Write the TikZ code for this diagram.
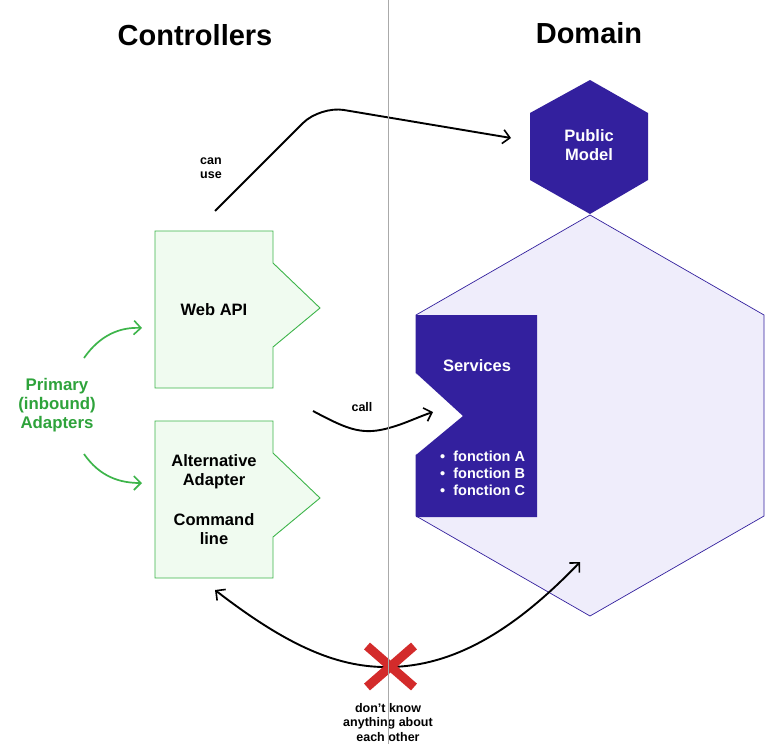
\documentclass[tikz,border=0pt]{standalone}
\usepackage{fontspec}
\setmainfont{Liberation Sans}
\usetikzlibrary{arrows.meta}
\definecolor{indigo}{HTML}{33209E}
\definecolor{lavender}{HTML}{EFEDFB}
\definecolor{paleg}{HTML}{F0FBF0}
\definecolor{gline}{HTML}{3DB54A}
\definecolor{gtext}{HTML}{2EA33B}
\definecolor{xred}{HTML}{D32B2B}
\definecolor{divider}{HTML}{AAAAAA}
\tikzset{
  >={Straight Barb[length=7pt,width=14pt,line width=1.6pt]},
  title/.style={font=\bfseries\fontsize{29}{31}\selectfont, inner sep=0pt},
  boxlabel/.style={font=\bfseries\fontsize{16.5}{19}\selectfont, align=center, inner sep=0pt},
  small/.style={font=\bfseries\fontsize{12.5}{14.5}\selectfont, align=center, inner sep=0pt},
  adapter/.style={draw=gline, fill=paleg, line width=0.9pt},
  conn/.style={line width=1.9pt, black},
}
\begin{document}
\begin{tikzpicture}[x=1pt,y=-1pt]
\useasboundingbox (0,0) rectangle (765,744);
\fill[white] (0,0) rectangle (765,744);

% titles
\node[title] (tctrl) at (195,35) {Controllers};
\node[title] (tdom) at (589,33) {Domain};

% domain hexagon
\draw[fill=lavender, draw=indigo, line width=0.7pt]
  (590,215) -- (764,315) -- (764,516) -- (590,616) -- (416,516) -- (416,315) -- cycle;

% public model hexagon
\fill[indigo] (590,80) -- (648,113) -- (648,180) -- (590,214) -- (530,180) -- (530,113) -- cycle;
\node[boxlabel, text=white] (pm) at (589,145) {Public\\Model};

% services
\fill[white] (415,373) -- (463,416) -- (415,455) -- cycle;
\fill[indigo] (416,315) -- (537,315) -- (537,517) -- (416,517) -- (416,455) -- (463,416) -- (416,373) -- cycle;
\node[boxlabel, text=white] (svc) at (477,366) {Services};
\node[font=\bfseries\fontsize{14.5}{17}\selectfont, text=white, align=left, inner sep=0pt, anchor=west] (fn) at (440,473)
  {\textbullet\ \ fonction A\\ \textbullet\ \ fonction B\\ \textbullet\ \ fonction C};
\coordinate (svcin) at (433,412);

% adapters
\draw[adapter] (155,231) -- (273,231) -- (273,263) -- (320,308) -- (273,347) -- (273,388) -- (155,388) -- cycle;
\node[boxlabel] (web) at (214,310) {Web API};
\draw[adapter] (155,421) -- (273,421) -- (273,453) -- (320,498) -- (273,537) -- (273,578) -- (155,578) -- cycle;
\node[boxlabel] (alt) at (214,472) {Alternative\\Adapter};
\node[boxlabel] (cmd) at (214,529) {Command\\line};

% primary adapters
\node[font=\bfseries\fontsize{16.8}{19}\selectfont, text=gtext, align=center, inner sep=0pt] (prim) at (57,405) {Primary\\(inbound)\\Adapters};
\coordinate (pa1) at (84,358);
\coordinate (pb1) at (142,328);
\coordinate (pa2) at (84,454);
\coordinate (pb2) at (142,483);
\draw[gline, line width=1.7pt, ->] (pa1) .. controls (100,335) and (120,327) .. (pb1);
\draw[gline, line width=1.7pt, ->] (pa2) .. controls (100,477) and (120,483) .. (pb2);

% can use
\coordinate (cu0) at (215,211);
\coordinate (cu1) at (511,138);
\draw[conn, ->, rounded corners=24pt] (cu0) -- (320,106) -- (cu1);
\node[small] (canuse) at (211,168) {can\\use};

% call
\coordinate (c0) at (313,411);
\draw[conn, ->] (c0) .. controls (345,428) and (360,435) .. (385,429) .. controls (405,424) and (415,418) .. (svcin);
\node[small] (call) at (362,407) {call};

% don't know
\coordinate (d0) at (215,590);
\coordinate (d1) at (580,562);
\draw[conn, <->] (d0) .. controls (290,648) and (340,668) .. (390,667) .. controls (450,666) and (510,635) .. (d1);
\coordinate (xc) at (390,666);
\draw[xred, line width=9pt] (367,646) -- (414,687);
\draw[xred, line width=9pt] (414,646) -- (367,687);
\node[small] (dk) at (388,722.5) {don’t know\\anything about\\each other};

% divider
\draw[divider, line width=0.8pt] (388,0) -- (388,744);
\end{tikzpicture}
\end{document}
